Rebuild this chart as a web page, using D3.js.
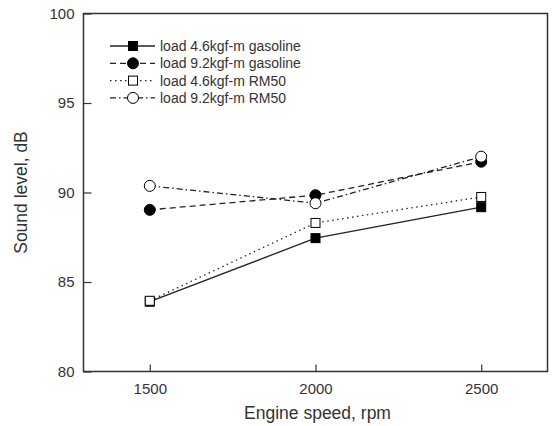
<!DOCTYPE html>
<html lang="en">
<head>
  <meta charset="UTF-8">
  <title>Sound level vs engine speed</title>
  <script src="https://d3js.org/d3.v7.min.js"></script>
  <style>
    body { margin: 0; padding: 0; background: #fff; }
    svg { display: block; }
    text { font-family: "Liberation Sans", Arial, sans-serif; fill: #333; }
  </style>
</head>
<body>
  <svg width="554" height="426"></svg>
  <script>
    // data
    const speeds = [1500, 2000, 2500];
    const gas46 = [83.9, 87.45, 89.18];
    const gas92 = [89.03, 89.85, 91.72];
    const rm46 = [83.95, 88.3, 89.75];
    const rm92 = [90.37, 89.4, 92.0];
    const legendLabels = ["load 4.6kgf-m gasoline", "load 9.2kgf-m gasoline", "load 4.6kgf-m RM50", "load 9.2kgf-m RM50"];
    const yTicks = [80, 85, 90, 95, 100];

    const series = [
      { name: legendLabels[0], values: gas46, dash: null, marker: "square", fill: "#000" },
      { name: legendLabels[1], values: gas92, dash: "6,4", marker: "circle", fill: "#000" },
      { name: legendLabels[2], values: rm46, dash: "1.5,3.5", marker: "square", fill: "#fff" },
      { name: legendLabels[3], values: rm92, dash: "6,3,1.5,3", marker: "circle", fill: "#fff" }
    ];

    const svg = d3.select("svg");
    const plotL = 83.5, plotR = 547.5, plotT = 13.5, plotB = 371.5;

    const x = d3.scaleLinear().domain([1300, 2700]).range([plotL, plotR]);
    const y = d3.scaleLinear().domain([80, 100]).range([plotB, plotT]);

    // frame
    svg.append("rect")
      .attr("x", plotL).attr("y", plotT)
      .attr("width", plotR - plotL).attr("height", plotB - plotT)
      .attr("fill", "none").attr("stroke", "#333").attr("stroke-width", 1.5);

    // axes with inward ticks
    const xAxis = svg.append("g")
      .attr("transform", `translate(0,${plotB})`)
      .call(d3.axisBottom(x).tickValues(speeds).tickSize(-7).tickPadding(12).tickFormat(d3.format("d")));
    const yAxis = svg.append("g")
      .attr("transform", `translate(${plotL},0)`)
      .call(d3.axisLeft(y).tickValues(yTicks).tickSize(-8).tickPadding(9));
    [xAxis, yAxis].forEach(a => {
      a.select(".domain").remove();
      a.selectAll("line").attr("stroke", "#333").attr("stroke-width", 1.2);
      a.selectAll("text").style("font-size", "15px").attr("fill", "#333");
    });

    // axis titles
    svg.append("text")
      .attr("x", (plotL + plotR) / 2 + 2).attr("y", 419)
      .attr("text-anchor", "middle").style("font-size", "17.5px")
      .text("Engine speed, rpm");
    svg.append("text")
      .attr("transform", `translate(27,${(plotT + plotB) / 2}) rotate(-90)`)
      .attr("text-anchor", "middle").style("font-size", "17.5px")
      .text("Sound level, dB");

    const line = d3.line().x((d, i) => x(speeds[i])).y(d => y(d));

    function drawMarker(g, s, cx, cy) {
      if (s.marker === "square") {
        g.append("rect")
          .attr("x", cx - 4.5).attr("y", cy - 4.5).attr("width", 9).attr("height", 9)
          .attr("fill", s.fill).attr("stroke", "#000").attr("stroke-width", 1);
      } else {
        g.append("circle")
          .attr("cx", cx).attr("cy", cy).attr("r", 5.5)
          .attr("fill", s.fill).attr("stroke", "#000").attr("stroke-width", 1);
      }
    }

    series.forEach(s => {
      svg.append("path")
        .datum(s.values)
        .attr("d", line)
        .attr("fill", "none").attr("stroke", "#222").attr("stroke-width", 1.3)
        .attr("stroke-dasharray", s.dash);
      const g = svg.append("g");
      s.values.forEach((v, i) => drawMarker(g, s, x(speeds[i]), y(v)));
    });

    // legend
    const legend = svg.append("g");
    series.forEach((s, i) => {
      const ly = 46 + i * 17.3;
      legend.append("line")
        .attr("x1", 110).attr("x2", 155).attr("y1", ly).attr("y2", ly)
        .attr("stroke", "#222").attr("stroke-width", 1.3)
        .attr("stroke-dasharray", s.dash);
      drawMarker(legend, s, 133, ly);
      legend.append("text")
        .attr("x", 160).attr("y", ly + 5)
        .style("font-size", "14px")
        .text(s.name);
    });
  </script>
</body>
</html>
